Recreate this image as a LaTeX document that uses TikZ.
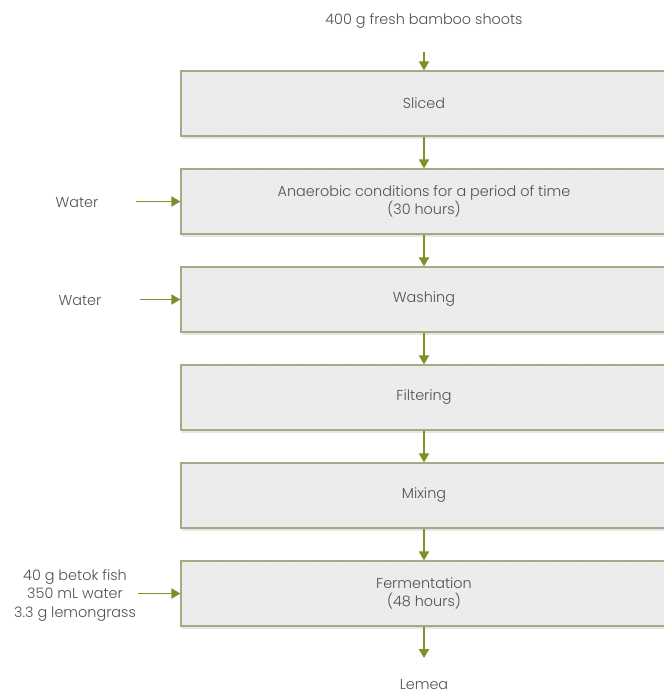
\documentclass[tikz,border=0pt]{standalone}
\usepackage{fontspec}
\setmainfont{Poppins Light}
\usepackage{tikz}
\usetikzlibrary{arrows.meta,positioning,shadows,patterns}
\definecolor{bsolive}{RGB}{122,146,38}
\definecolor{bsframe}{RGB}{165,170,132}
\definecolor{bsfill}{RGB}{232,232,232}
\definecolor{bsstripe}{RGB}{245,245,245}
\definecolor{bstext}{RGB}{80,80,80}
\tikzset{
  stepbox/.style={rectangle,draw=bsframe,line width=1.2pt,
    minimum width=486pt,minimum height=65pt,inner sep=2pt,align=center,
    text=bstext,
    drop shadow={shadow xshift=1pt,shadow yshift=-3pt,opacity=0.2},
    preaction={fill=bsfill},
    preaction={pattern=north west lines,pattern color=bsstripe}},
  labelnode/.style={text=bstext,align=center,inner sep=1pt},
  flowarrow/.style={-{Triangle[length=9pt,width=10pt]},line width=1.9pt,draw=bsolive}
}

\begin{document}
\begin{tikzpicture}[x=1pt,y=-1pt,font=\fontsize{14.4}{18.5}\selectfont]
  \useasboundingbox (0,0) rectangle (664,697);
  \clip (0,0) rectangle (664,697);
  \node[labelnode] (shoots) at (424,21) {400 g fresh bamboo shoots};
  \coordinate (shootsend) at (424,52);
  \node[stepbox] (sliced) at (424,103.5) {Sliced};
  \node[stepbox] (anaer) at (424,201.5) {Anaerobic conditions for a period of time\\(30 hours)};
  \node[stepbox] (wash) at (424,299.5) {Washing};
  \node[stepbox] (filter) at (424,397.5) {Filtering};
  \node[stepbox] (mix) at (424,495.5) {Mixing};
  \node[stepbox] (ferm) at (424,593.5) {Fermentation\\(48 hours)};
  \coordinate (fermend) at (424,658);
  \node[labelnode] (lemea) at (424,685) {Lemea};
  \node[labelnode] (water1) at (77,203) {Water};
  \coordinate (water1end) at (136,201.5);
  \node[labelnode] (water2) at (80,301) {Water};
  \coordinate (water2end) at (140,299.5);
  \node[labelnode] (extras) at (75,595) {40 g betok fish\\350 mL water\\3.3 g lemongrass};
  \coordinate (extrasend) at (138,593.5);
  \draw[flowarrow] (shootsend) -- (sliced);
  \draw[flowarrow] (sliced) -- (anaer);
  \draw[flowarrow] (anaer) -- (wash);
  \draw[flowarrow] (wash) -- (filter);
  \draw[flowarrow] (filter) -- (mix);
  \draw[flowarrow] (mix) -- (ferm);
  \draw[flowarrow] (ferm) -- (fermend);
  \draw[flowarrow] (water1end) -- (anaer.west |- water1end);
  \draw[flowarrow] (water2end) -- (wash.west |- water2end);
  \draw[flowarrow] (extrasend) -- (ferm.west |- extrasend);
\end{tikzpicture}
\end{document}
